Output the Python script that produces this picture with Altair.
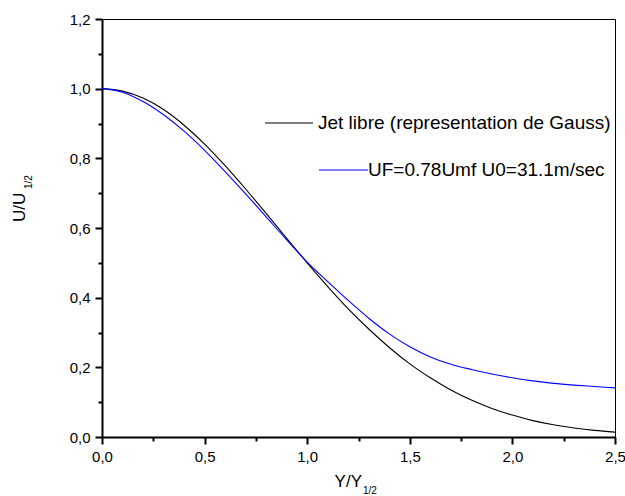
import altair as alt
import pandas as pd

# Values
x_vals = [0.0, 0.1, 0.2, 0.3, 0.4, 0.5, 0.6, 0.7, 0.8, 0.9, 1.0, 1.1, 1.2,
          1.3, 1.4, 1.5, 1.6, 1.7, 1.8, 1.9, 2.0, 2.1, 2.2, 2.3, 2.4, 2.5]
jet_libre = [1.000, 0.993, 0.973, 0.940, 0.895, 0.841, 0.779, 0.712, 0.642,
             0.570, 0.500, 0.432, 0.368, 0.310, 0.257, 0.210, 0.170, 0.135,
             0.106, 0.082, 0.063, 0.047, 0.035, 0.026, 0.019, 0.014]
uf_078 = [1.000, 0.990, 0.963, 0.925, 0.878, 0.823, 0.762, 0.698, 0.632,
          0.566, 0.502, 0.446, 0.392, 0.341, 0.296, 0.259, 0.230, 0.209,
          0.194, 0.181, 0.170, 0.161, 0.154, 0.149, 0.145, 0.141]

series_names = ["Jet libre (representation de Gauss)", "UF=0.78Umf U0=31.1m/sec"]
series_colors = ["#000000", "#0000ff"]

x_ticks = [0.0, 0.25, 0.5, 0.75, 1.0, 1.25, 1.5, 1.75, 2.0, 2.25, 2.5]
y_ticks = [0.0, 0.1, 0.2, 0.3, 0.4, 0.5, 0.6, 0.7, 0.8, 0.9, 1.0, 1.1, 1.2]

df = pd.DataFrame({
    "x": x_vals * 2,
    "y": jet_libre + uf_078,
    "serie": [series_names[0]] * len(x_vals) + [series_names[1]] * len(x_vals),
})

FONT = "Liberation Sans"
W, H = 513, 418

x_major = "abs(datum.value*2 - round(datum.value*2)) < 0.001"
y_major = "abs(datum.value*5 - round(datum.value*5)) < 0.001"

x_axis = alt.Axis(
    values=x_ticks, title=None, grid=False,
    labelExpr=f"({x_major}) ? replace(format(datum.value, '.1f'), '.', ',') : ''",
    tickSize={"condition": {"test": x_major, "value": 7}, "value": 4},
    tickWidth=2, domainWidth=2, domainColor="black", tickColor="black",
    labelFont=FONT, labelFontSize=15, labelColor="black", labelPadding=5,
    labelFlush=False,
)
y_axis = alt.Axis(
    values=y_ticks, title=None, grid=False,
    labelExpr=f"({y_major}) ? replace(format(datum.value, '.1f'), '.', ',') : ''",
    tickSize={"condition": {"test": y_major, "value": 7}, "value": 4},
    tickWidth=2, domainWidth=2, domainColor="black", tickColor="black",
    labelFont=FONT, labelFontSize=15, labelColor="black", labelPadding=5,
    labelFlush=False,
)

lines = alt.Chart(df).mark_line(strokeWidth=1.1, clip=True, interpolate="monotone").encode(
    x=alt.X("x:Q", scale=alt.Scale(domain=[0, 2.5], nice=False, zero=False), axis=x_axis),
    y=alt.Y("y:Q", scale=alt.Scale(domain=[0, 1.2], nice=False, zero=False), axis=y_axis),
    color=alt.Color("serie:N", scale=alt.Scale(domain=series_names, range=series_colors), legend=None),
)


def label(text, x, y, size, align="left", baseline="middle", angle=0):
    return alt.Chart(pd.DataFrame({"t": [text]})).mark_text(
        font=FONT, fontSize=size, align=align, baseline=baseline, angle=angle, color="black"
    ).encode(text="t:N", x=alt.value(x), y=alt.value(y))


# legend
leg_rule1 = alt.Chart(pd.DataFrame({"a": [0]})).mark_rule(color=series_colors[0], strokeWidth=1.1).encode(
    x=alt.value(163), x2=alt.value(211), y=alt.value(104))
leg_rule2 = alt.Chart(pd.DataFrame({"a": [0]})).mark_rule(color=series_colors[1], strokeWidth=1.1).encode(
    x=alt.value(217), x2=alt.value(266), y=alt.value(151))
leg_text1 = label(series_names[0], 216, 104, 19)
leg_text2 = label(series_names[1], 266, 151, 19)

# axis titles with subscripts
xt_main = label("Y/Y", 260, 468, 17, align="right", baseline="alphabetic")
xt_sub = label("1/2", 261, 475, 10, align="left", baseline="alphabetic")
yt_main = label("U/U", -77, 203, 17, align="left", baseline="alphabetic", angle=270)
yt_sub = label("1/2", -70, 170, 10, align="left", baseline="alphabetic", angle=270)

chart = alt.layer(
    lines, leg_rule1, leg_rule2, leg_text1, leg_text2, xt_main, xt_sub, yt_main, yt_sub
).properties(
    width=W, height=H,
    autosize=alt.AutoSizeParams(type="none"),
    padding={"left": 102, "top": 19, "right": 10, "bottom": 59},
    background="white",
).configure_view(stroke="black", strokeWidth=1)

chart.save("out.html", embed_options={"renderer": "svg", "actions": False})
